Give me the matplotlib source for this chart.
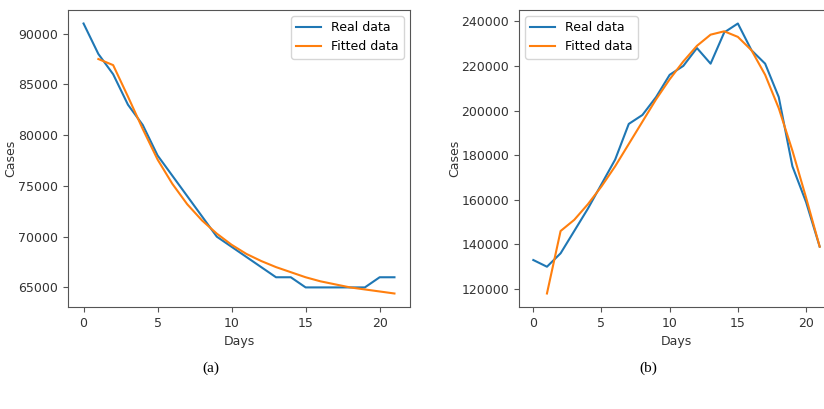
import matplotlib
matplotlib.use('Agg')
import matplotlib.pyplot as plt

# panel (a)
days_a = list(range(0, 22))
real_a = [91000, 88000, 86000, 83000, 81000, 78000, 76000, 74000, 72000, 70000, 69000,
          68000, 67000, 66000, 66000, 65000, 65000, 65000, 65000, 65000, 66000, 66000]
fit_days_a = list(range(1, 22))
fit_a = [87500, 86900, 83800, 80600, 77600, 75200, 73200, 71600, 70300, 69200, 68300,
         67600, 67000, 66500, 66000, 65600, 65300, 65000, 64800, 64600, 64400]

# panel (b)
days_b = list(range(0, 22))
real_b = [133000, 130000, 136000, 146000, 156000, 167000, 178000, 194000, 198000, 206000, 216000,
          220000, 228000, 221000, 235000, 239000, 227000, 221000, 206000, 175000, 159000, 139000]
fit_days_b = list(range(1, 22))
fit_b = [118000, 146000, 151000, 158000, 166000, 175000, 185000, 195000, 205000, 214000, 222000,
         229000, 234000, 235500, 233000, 227000, 216000, 201000, 182000, 161000, 139000]

plt.rcParams['font.family'] = 'DejaVu Sans'
fs = 9

W, H = 824, 409
fig = plt.figure(figsize=(W / 100, H / 100), dpi=100)

def px_axes(left, top, right, bottom):
    return fig.add_axes([left / W, 1 - bottom / H, (right - left) / W, (bottom - top) / H])

ax1 = px_axes(68, 10, 410, 307)
ax2 = px_axes(519, 10, 834, 307)

for ax, d, r, fd, f, loc, ylx in [(ax1, days_a, real_a, fit_days_a, fit_a, 'upper right', 17),
                                  (ax2, days_b, real_b, fit_days_b, fit_b, 'upper left', 461)]:
    ax.plot(d, r, color='#1f77b4', lw=1.5, label='Real data')
    ax.plot(fd, f, color='#ff7f0e', lw=1.5, label='Fitted data')
    ax.set_xlabel('Days', fontsize=fs, color='#333333', labelpad=4)
    ax.set_ylabel('Cases', fontsize=fs, color='#333333')
    bb = ax.get_position()
    ax.yaxis.set_label_coords((ylx / W - bb.x0) / bb.width, 0.5)
    ax.tick_params(labelsize=fs, labelcolor='#333333', color='#555555')
    ax.set_xticks([0, 5, 10, 15, 20])
    ax.legend(loc=loc, fontsize=fs)
    for s in ax.spines.values():
        s.set_color('#555555')

ax1.set_yticks([65000, 70000, 75000, 80000, 85000, 90000])
ax2.set_yticks([120000, 140000, 160000, 180000, 200000, 220000, 240000])

fig.text(211 / W, 1 - 368 / H, '(a)', ha='center', va='center', fontsize=11,
         family='Liberation Serif')
fig.text(648 / W, 1 - 368 / H, '(b)', ha='center', va='center', fontsize=11,
         family='Liberation Serif')

fig.savefig('out.png', dpi=100)
